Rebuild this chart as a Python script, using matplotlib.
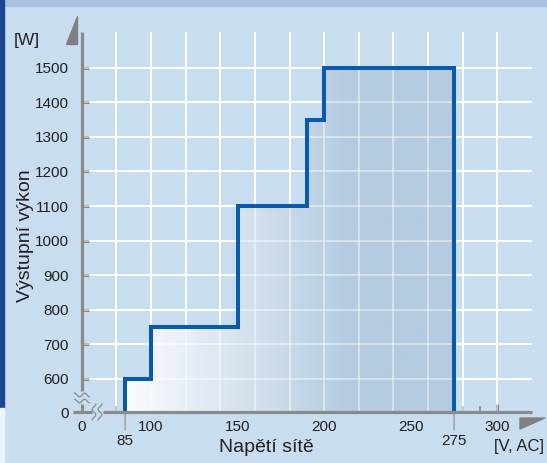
import numpy as np
import matplotlib
matplotlib.use("Agg")
import matplotlib.pyplot as plt
from matplotlib import font_manager
from matplotlib.transforms import Affine2D
from matplotlib.patches import Polygon, Rectangle

# output power of the supply vs. mains voltage (step curve)
volts = [85, 85, 100, 100, 150, 150, 190, 190, 200, 200, 275, 275]
watts = [0, 600, 600, 750, 750, 1100, 1100, 1350, 1350, 1500, 1500, 0]

x_major = [0, 100, 150, 200, 250, 300]
x_minor = list(range(80, 301, 10))
x_grid = list(range(80, 301, 20))
y_ticks = [0, 600, 700, 800, 900, 1000, 1100, 1200, 1300, 1400, 1500]
x_marks = [85, 275]

x_label = "Napětí sítě"
x_unit = "[V, AC]"
y_label = "Výstupní výkon"
y_unit = "[W]"

W, H = 547, 463
PANEL = "#c8def0"
GREY = "#8a8a8a"
BLUE = "#0a5aaa"
TXT = "#231f20"

names = {f.name for f in font_manager.fontManager.ttflist}
family = next(n for n in ["Liberation Sans Narrow", "Liberation Sans", "DejaVu Sans"] if n in names)
plt.rcParams["font.family"] = [family, "DejaVu Sans"]


# broken axes: 0..70 V and 0..600 W are squeezed into a short gap
def x_fwd(v):
    v = np.asarray(v, float)
    return np.where(v >= 70, v, 60.1 + v * 9.9 / 70)


def x_inv(u):
    u = np.asarray(u, float)
    return np.where(u >= 70, u, (u - 60.1) * 70 / 9.9)


def y_fwd(w):
    w = np.asarray(w, float)
    return np.where(w >= 600, w, 504.6 + w * 95.4 / 600)


def y_inv(u):
    u = np.asarray(u, float)
    return np.where(u >= 600, u, (u - 504.6) * 600 / 95.4)


fig = plt.figure(figsize=(W / 100, H / 100), dpi=100, facecolor=PANEL)
pix = Affine2D().scale(1, -1).translate(0, H)  # pixel coords, origin top-left

# photo border at top and left
fig.patches.append(Rectangle((0, 0), W, 6, transform=pix, color="#a9c2e2", zorder=0))
fig.patches.append(Rectangle((0, 0), 4, 408, transform=pix, color="#1c4596", zorder=0))
fig.patches.append(Rectangle((0, 408), 4, H - 408, transform=pix, color="#eef3fa", zorder=0))

ax = fig.add_axes([82 / W, 1 - 412 / H, 450 / W, 380 / H])
ax.set_xscale("function", functions=(x_fwd, x_inv))
ax.set_yscale("function", functions=(y_fwd, y_inv))
ax.set_xlim(0, 320)
ax.set_ylim(0, 1603)
ax.patch.set_visible(False)
for s in ax.spines.values():
    s.set_visible(False)

# grid
ax.vlines(x_grid, 0, 1603, color="white", lw=1.4, zorder=1)
ax.hlines(y_ticks[1:], 0, 320, color="white", lw=1.4, zorder=1)

# gradient fill under the curve
n = 400
gx = np.linspace(volts[0], volts[-1], n)
t = np.clip((gx - 85) / (215 - 85), 0, 1)
c0 = np.array([250, 252, 254]) / 255
c1 = np.array([180, 203, 224]) / 255
img = (c0[None, :] * (1 - t[:, None]) + c1[None, :] * t[:, None])[None, :, :]
im = ax.imshow(img, extent=(volts[0], volts[-1], 0, max(watts)), aspect="auto",
               interpolation="bilinear", zorder=2)
clip = Polygon(np.column_stack([volts, watts]), closed=True, transform=ax.transData,
               facecolor="none", edgecolor="none")
ax.add_patch(clip)
im.set_clip_path(clip)
ax.set_xlim(0, 320)
ax.set_ylim(0, 1603)

# grid shows faintly through the fill
ax.vlines(x_grid, 0, 1603, color="white", lw=1.4, alpha=0.45, zorder=3)
ax.hlines(y_ticks[1:], 0, 320, color="white", lw=1.4, alpha=0.45, zorder=3)

ax.plot(volts, watts, color=BLUE, lw=2.9, solid_joinstyle="miter", zorder=5, clip_on=False)

# axis lines with breaks
kw = dict(color=GREY, lw=2.3, solid_capstyle="butt", zorder=6, clip_on=False)
ax.plot([0, 0], [21 / 380, 1], transform=ax.transAxes, **kw)
ax.plot([21 / 450, 1], [0, 0], transform=ax.transAxes, **kw)
ax.plot([-9 / 450, 10 / 450], [0, 0], transform=ax.transAxes, **kw)

wave = np.linspace(-1, 1, 40)
for yc in (395, 401):
    fig.add_artist(plt.Line2D(82 + 7.5 * wave, yc - 1.8 * np.sin(np.pi * 1.5 * wave),
                              transform=pix, color=GREY, lw=0.9))
for xc in (94, 100):
    fig.add_artist(plt.Line2D(xc + 1.8 * np.sin(np.pi * 1.5 * wave), 412 + 8 * wave,
                              transform=pix, color=GREY, lw=0.9))

# axis arrows
fig.patches.append(Polygon([(66, 44), (77, 44), (77, 16)], closed=True, transform=pix,
                           color="#808080", zorder=5))
fig.patches.append(Polygon([(520, 418), (545, 418), (520, 429)], closed=True, transform=pix,
                           color="#808080", zorder=5))

# ticks
ax.set_xticks(x_major)
ax.set_xticks([v for v in x_minor if v not in x_major], minor=True)
ax.set_yticks(y_ticks)
ax.tick_params(axis="x", which="major", direction="in", length=5.5, width=2.2, color=GREY,
               pad=5.5, labelsize=11, labelcolor=TXT)
ax.tick_params(axis="x", which="minor", direction="in", length=4, width=1.2, color=GREY)
ax.tick_params(axis="y", which="major", direction="in", length=5, width=2.2, color=GREY,
               pad=9.5, labelsize=11, labelcolor=TXT)
for tk in ax.yaxis.get_major_ticks()[:1]:
    tk.tick1line.set_visible(False)

for v in x_marks:
    ax.annotate(str(v), xy=(v, 0), xytext=(0, -29), textcoords="offset pixels",
                ha="center", va="center", fontsize=11, color=TXT, annotation_clip=False,
                arrowprops=dict(arrowstyle="-", color=GREY, lw=0.8, shrinkA=1, shrinkB=0))

# axis titles
fig.text(266 / W, 1 - 447 / H, x_label, ha="center", va="center", fontsize=14, color=TXT)
fig.text(544 / W, 1 - 447 / H, x_unit, ha="right", va="center", fontsize=12, color=TXT)
fig.text(25 / W, 1 - 236 / H, y_label, ha="center", va="center", rotation=90,
         fontsize=14, color=TXT)
fig.text(27 / W, 1 - 40 / H, y_unit, ha="center", va="center", fontsize=12.5, color=TXT)

fig.savefig("out.png", dpi=100, facecolor=PANEL)
